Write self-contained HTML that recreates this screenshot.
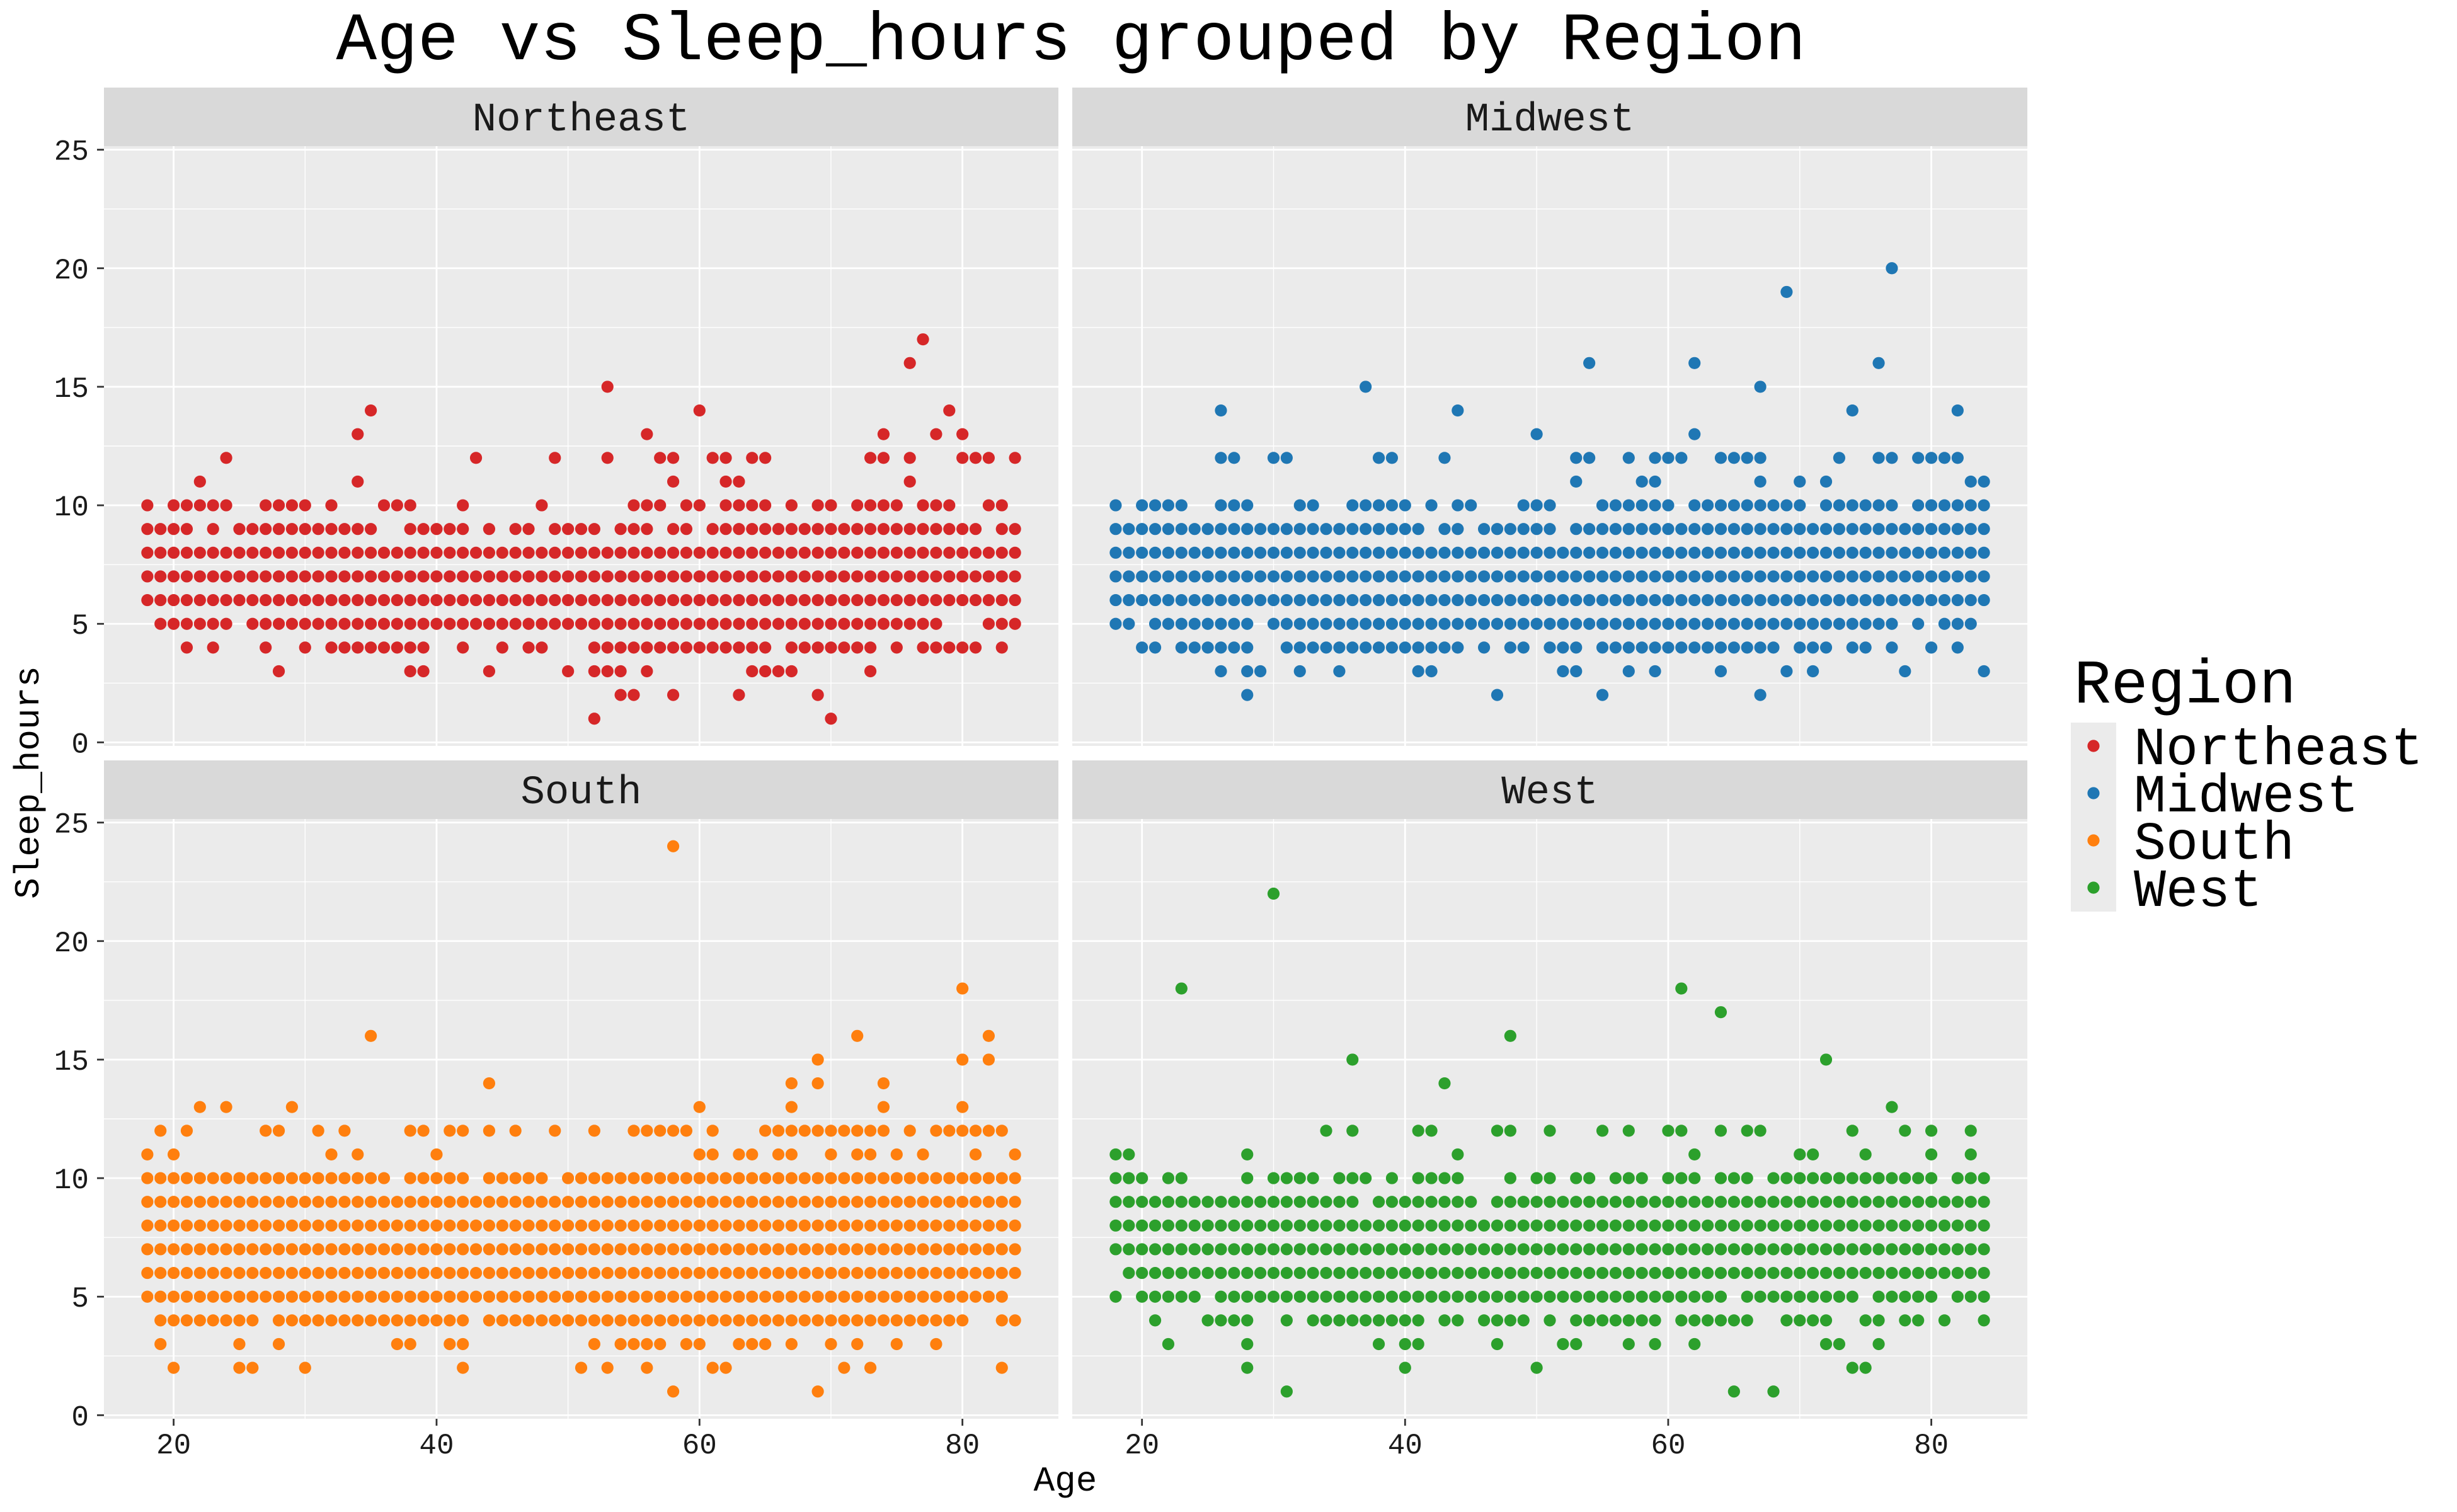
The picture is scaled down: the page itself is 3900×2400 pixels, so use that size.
<!DOCTYPE html>
<html>
<head>
<meta charset="utf-8">
<style>
html,body{margin:0;padding:0;background:#fff;}
svg{display:block;}
text{font-family:"Liberation Mono","DejaVu Sans Mono",monospace;}
</style>
</head>
<body>
<svg id="chart" xmlns="http://www.w3.org/2000/svg" width="3900" height="2400" viewBox="0 0 3900 2400">
  <rect x="0" y="0" width="3900" height="2400" fill="#ffffff"/>
  <text x="1700" y="94" font-size="108" text-anchor="middle" fill="#000">Age vs Sleep_hours grouped by Region</text>
  <text x="1691" y="2366" font-size="56" text-anchor="middle" fill="#000">Age</text>
  <text transform="translate(61,1242) rotate(-90)" x="0" y="0" font-size="56" text-anchor="middle" fill="#000">Sleep_hours</text>
  <g id="panels"></g>
  <g id="legend">
    <text x="3292" y="1115" font-size="98" fill="#000">Region</text>
    <rect x="3287" y="1147" width="72" height="300" fill="#EBEBEB"/>
  </g>
</svg>
<script>
const regions = ["Northeast", "Midwest", "South", "West"];
const colors = ["#d62728", "#1f77b4", "#ff7f0e", "#2ca02c"];
const xTicks = [20, 40, 60, 80];
const xMinor = [30, 50, 70];
const yTicks = [0, 5, 10, 15, 20, 25];
const yMinor = [2.5, 7.5, 12.5, 17.5, 22.5];

const neSleep = [17, 16, 15, 14, 13, 12, 11, 10, 9, 8, 7, 6, 5, 4, 3, 2, 1];
const neAges = ["77", "76", "53", "35,60,79", "34,56,74,78,80",
  "24,43,49,53,57,58,61,62,64,65,73,74,76,80,81,82,84",
  "22,34,58,62,63,76",
  "18,20-24,27-30,32,36-38,42,48,55-57,59,60,62-65,67,69,70,72-75,77-79,82,83",
  "18-21,23,25-35,38-42,44,46,47,49-52,54-56,58,59,61-81,83,84",
  "18-84", "18-84", "18-84",
  "19-24,26-78,82-84",
  "21,23,27,30,32-39,42,45,47,48,52-65,67-73,75,77-81,83",
  "28,38,39,44,50,52-54,56,64-67,73",
  "54,55,58,63,69",
  "52,70"];

const mwSleep = [20, 19, 16, 15, 14, 13, 12, 11, 10, 9, 8, 7, 6, 5, 4, 3, 2];
const mwAges = ["77", "69", "54,62,76", "37,67", "26,44,74,82", "50,62",
  "26,27,30,31,38,39,43,53,54,57,59-61,64-67,73,76,77,79-82",
  "53,58,59,67,70,72,83,84",
  "18,20-23,26-28,32,33,36-40,42,44,45,49-51,55-60,62-70,72-77,79-84",
  "18-41,43,44,46-51,53-84",
  "18-84", "18-84", "18-84",
  "18,19,21-28,30-77,79,81-83",
  "20,21,23-28,31-44,46,48,49,51-53,55-68,70-72,74,75,77,80,82",
  "26,28,29,32,35,41,42,52,53,57,59,64,69,71,78,84",
  "28,47,55,67"];

const soSleep = [24, 18, 16, 15, 14, 13, 12, 11, 10, 9, 8, 7, 6, 5, 4, 3, 2, 1];
const soAges = ["58", "80", "35,72,82", "69,80,82", "44,67,69,74", "22,24,29,60,67,74,80",
  "19,21,27,28,31,33,38,39,41,42,44,46,49,52,55-59,61,65-74,76,78-83",
  "18,20,32,34,40,60,61,63,64,66,67,70,72,73,75,77,81,84",
  "18-36,38-42,44-48,50-84",
  "18-84", "18-84", "18-84", "18-84",
  "18-83",
  "19-26,28-42,44-80,83,84",
  "19,25,28,37,38,41,42,52,54-57,59,60,63-65,67,70,72,75,78",
  "20,25,26,30,42,51,53,56,61,62,71,73,83",
  "58,69"];

const weSleep = [22, 18, 17, 16, 15, 14, 13, 12, 11, 10, 9, 8, 7, 6, 5, 4, 3, 2, 1];
const weAges = ["30", "23,61", "64", "48", "36,72", "43", "77",
  "34,36,41,42,47,48,51,55,57,60,61,64,66,67,74,78,80,83",
  "18,19,28,44,62,70,71,75,80,83",
  "18-20,22,23,28,30-33,35-37,39,41-44,48,50,51,53,54,56-58,60-62,64-66,68-80,82-84",
  "18-36,38-45,47-84",
  "18-84", "18-84",
  "19-84",
  "18,20-24,26-64,66-74,76-80,82-84",
  "21,25-28,31,33-41,43,44,46-49,51,53-59,61-66,69-72,75,76,78,79,81,84",
  "22,28,38,40,41,47,52,53,57,59,62,72,73,76",
  "28,40,50,74,75",
  "31,65,68"];

const panelSleep = [neSleep, mwSleep, soSleep, weSleep];
const panelAges = [neAges, mwAges, soAges, weAges];

const NS = "http://www.w3.org/2000/svg";
const XMIN = 14.7, XMAX = 87.3, YMIN = -0.15, YMAX = 25.15;
const layout = [
  {x0: 165, x1: 1680, y0: 232, y1: 1184, col: 0, row: 0},
  {x0: 1702, x1: 3218, y0: 232, y1: 1184, col: 1, row: 0},
  {x0: 165, x1: 1680, y0: 1300, y1: 2252, col: 0, row: 1},
  {x0: 1702, x1: 3218, y0: 1300, y1: 2252, col: 1, row: 1}
];

function mk(tag, attrs, parent) {
  const e = document.createElementNS(NS, tag);
  for (const k in attrs) e.setAttribute(k, attrs[k]);
  parent.appendChild(e);
  return e;
}
function parseAges(spec) {
  const out = [];
  spec.split(",").forEach(function (p) {
    if (p.indexOf("-") >= 0) {
      const ab = p.split("-").map(Number);
      for (let a = ab[0]; a <= ab[1]; a++) out.push(a);
    } else out.push(Number(p));
  });
  return out;
}

const panelsG = document.getElementById("panels");
layout.forEach(function (L, i) {
  const xs = function (a) { return L.x0 + (a - XMIN) / (XMAX - XMIN) * (L.x1 - L.x0); };
  const ys = function (v) { return L.y1 - (v - YMIN) / (YMAX - YMIN) * (L.y1 - L.y0); };
  const g = mk("g", {}, panelsG);
  
  

  const strip = mk("rect", {x: L.x0, y: L.y0 - 93, width: L.x1 - L.x0, height: 93, fill: "#D9D9D9"}, g);
  
  
  const st = mk("text", {x: (L.x0 + L.x1) / 2, y: L.y0 - 25, "font-size": 64, "text-anchor": "middle", fill: "#1a1a1a"}, g);
  st.textContent = regions[i];
  
  

  const bg = mk("rect", {x: L.x0, y: L.y0, width: L.x1 - L.x0, height: L.y1 - L.y0, fill: "#EBEBEB"}, g);
  
  

  yMinor.forEach(function (v) {
    const l = mk("line", {x1: L.x0, x2: L.x1, y1: ys(v), y2: ys(v), stroke: "#fff", "stroke-width": 1.4}, g);
    
    
  });
  xMinor.forEach(function (a) {
    const l = mk("line", {x1: xs(a), x2: xs(a), y1: L.y0, y2: L.y1, stroke: "#fff", "stroke-width": 1.4}, g);
    
    
  });
  yTicks.forEach(function (v) {
    const l = mk("line", {x1: L.x0, x2: L.x1, y1: ys(v), y2: ys(v), stroke: "#fff", "stroke-width": 2.8}, g);
    
    
    if (L.col === 0) {
      const t = mk("line", {x1: L.x0 - 11, x2: L.x0, y1: ys(v), y2: ys(v), stroke: "#333", "stroke-width": 2.8}, g);
      
      
      const tl = mk("text", {x: L.x0 - 24, y: ys(v) + 16, "font-size": 46, "text-anchor": "end", fill: "#1a1a1a"}, g);
      tl.textContent = String(v);
      
      
    }
  });
  xTicks.forEach(function (a) {
    const l = mk("line", {x1: xs(a), x2: xs(a), y1: L.y0, y2: L.y1, stroke: "#fff", "stroke-width": 2.8}, g);
    
    
    if (L.row === 1) {
      const t = mk("line", {x1: xs(a), x2: xs(a), y1: L.y1, y2: L.y1 + 11, stroke: "#333", "stroke-width": 2.8}, g);
      
      
      const tl = mk("text", {x: xs(a), y: L.y1 + 55, "font-size": 46, "text-anchor": "middle", fill: "#1a1a1a"}, g);
      tl.textContent = String(a);
      
      
    }
  });

  const sleeps = panelSleep[i];
  const ages = panelAges[i];
  sleeps.forEach(function (v, r) {
    parseAges(ages[r]).forEach(function (a) {
      const c = mk("circle", {cx: xs(a), cy: ys(v), r: 9.6, fill: colors[i]}, g);
      
      
    });
  });
});

const legendG = document.getElementById("legend");
regions.forEach(function (name, i) {
  const cy = 1184 + i * 75;
  const d = mk("circle", {cx: 3323, cy: cy, r: 9.6, fill: colors[i]}, legendG);
  
  
  const t = mk("text", {x: 3387, y: cy + 29, "font-size": 85, fill: "#000"}, legendG);
  t.textContent = name;
  
  
});
</script>
</body>
</html>
